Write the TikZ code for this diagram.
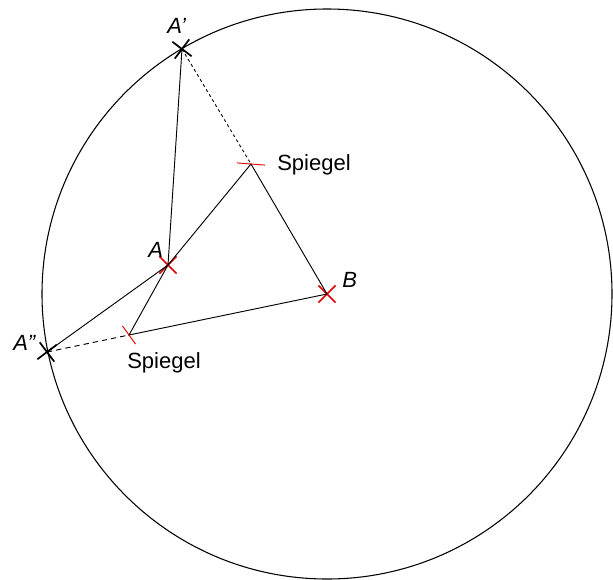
\documentclass[tikz,border=0pt]{standalone}
\usepackage{fontspec}
\setmainfont{Liberation Sans}
\usetikzlibrary{calc,shapes.misc}
\definecolor{ink}{HTML}{000000}
\definecolor{mirrorred}{HTML}{E00000}

\begin{document}
\begin{tikzpicture}[x=0.75pt,y=-0.75pt,font=\fontsize{16.5}{19}\selectfont]
\useasboundingbox (0,0) rectangle (613,579);
% crosses
\node[cross out,draw=mirrorred,line width=1.3pt,minimum size=11.5pt,inner sep=0pt] (B) at (327,294) {};
\node[cross out,draw=mirrorred,line width=1.3pt,minimum size=11.5pt,inner sep=0pt] (A) at (168,265) {};
\node[cross out,draw=ink,line width=1.3pt,minimum size=11.5pt,inner sep=0pt,rotate=8] (A1) at (182,49) {};
\node[cross out,draw=ink,line width=1.3pt,minimum size=11.5pt,inner sep=0pt,rotate=-8] (A2) at (47,352) {};
\coordinate (m1) at (251,164);
\coordinate (m2) at (129,335);

\draw[ink,line width=0.8pt] (B.center) circle[radius=285];

\draw[ink,line width=0.7pt] (A1.center) -- (A.center);
\draw[ink,line width=0.7pt] (A2.center) -- (A.center) -- (m1) -- (B.center);
\draw[ink,line width=0.7pt] (A.center) -- (m2) -- (B.center);
\draw[ink,line width=0.7pt,dash pattern=on 2.2pt off 2.2pt] (A1.center) -- (m1);
\draw[ink,line width=0.7pt,dash pattern=on 4pt off 3pt] (A2.center) -- (m2);

% mirrors
\draw[mirrorred,line width=0.7pt] ($(m1)+(-14,-1.1)$) -- ($(m1)+(14,1.1)$);
\draw[mirrorred,line width=0.7pt] ($(m2)+(-6.5,-9)$) -- ($(m2)+(6.5,9)$);

% labels
\node[anchor=base west,inner sep=0pt,font=\fontsize{16.5}{19}\selectfont\itshape] (lA1) at (167,33) {A’};
\node[anchor=base west,inner sep=0pt,font=\fontsize{16.5}{19}\selectfont\itshape] (lA2) at (13,350) {A”};
\node[anchor=base west,inner sep=0pt,font=\fontsize{16.5}{19}\selectfont\itshape] (lA) at (148,257) {A};
\node[anchor=base west,inner sep=0pt,font=\fontsize{16.5}{19}\selectfont\itshape] (lB) at (342,287) {B};
\node[anchor=base west,inner sep=0pt] (s1) at (277,170) {Spiegel};
\node[anchor=base west,inner sep=0pt] (s2) at (127,368) {Spiegel};
\end{tikzpicture}
\end{document}
